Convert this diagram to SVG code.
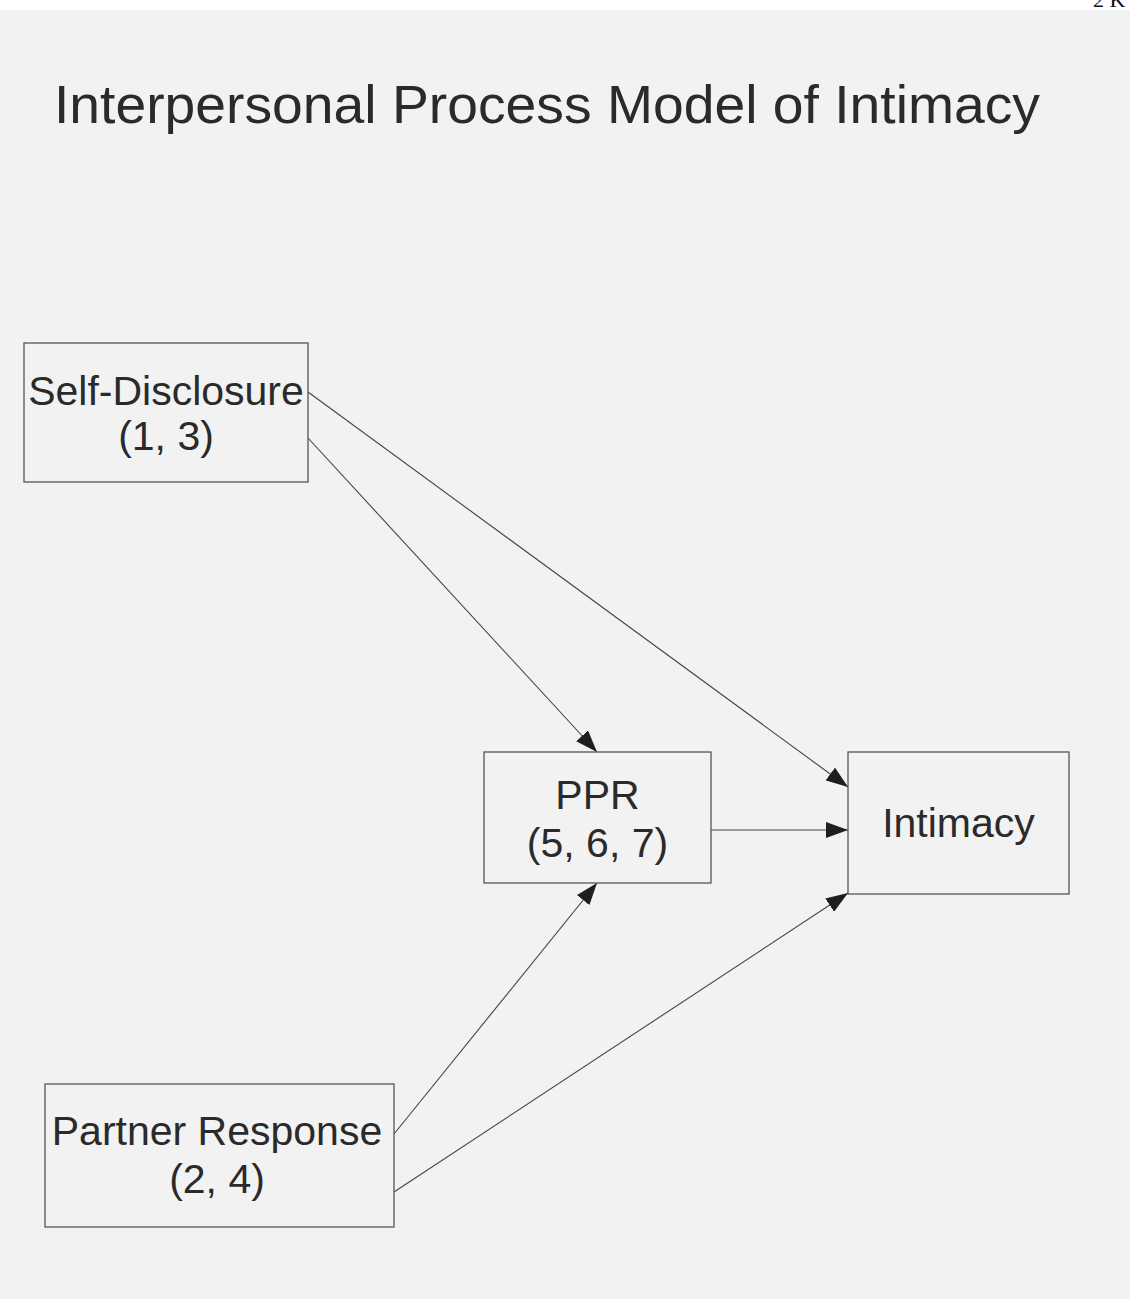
<svg xmlns="http://www.w3.org/2000/svg" width="1130" height="1299" viewBox="0 0 1130 1299">
<style>
.box{fill:none;stroke:#555;stroke-width:1.3}
.t{font-family:"Liberation Sans",Arial,sans-serif;fill:#2a2a2a;text-anchor:middle;font-size:41px}
.c{stroke:#444;stroke-width:1.1;fill:none}
</style>
<defs>
<marker id="ah" viewBox="0 0 22 16" refX="22" refY="8" markerWidth="22" markerHeight="16" markerUnits="userSpaceOnUse" orient="auto">
<path d="M0,0 L22,8 L0,16 Z" fill="#1e1e1e"/>
</marker>
</defs>
<rect x="0" y="0" width="1130" height="1299" fill="#ffffff"/>
<rect x="0" y="10" width="1130" height="1289" fill="#f2f2f2"/>
<text x="1093" y="7" font-family="Liberation Serif,serif" font-size="22" fill="#111">2 K</text>
<text id="title" x="54" y="123" font-family="Liberation Sans,Arial,sans-serif" font-size="54" textLength="986" lengthAdjust="spacingAndGlyphs" fill="#2a2a2a">Interpersonal Process Model of Intimacy</text>
<g id="connectors">
<line class="c" x1="308" y1="392" x2="848" y2="787" marker-end="url(#ah)"/>
<line class="c" x1="308" y1="438" x2="597" y2="752" marker-end="url(#ah)"/>
<line class="c" x1="711" y1="830" x2="848" y2="830" marker-end="url(#ah)"/>
<line class="c" x1="394" y1="1134" x2="597" y2="883" marker-end="url(#ah)"/>
<line class="c" x1="394" y1="1192" x2="848" y2="893" marker-end="url(#ah)"/>
</g>
<g id="self-disclosure">
<rect class="box" x="24" y="343" width="284" height="139"/>
<text class="t" x="166" y="405">Self-Disclosure</text>
<text class="t" x="166" y="450">(1, 3)</text>
</g>
<g id="ppr">
<rect class="box" x="484" y="752" width="227" height="131"/>
<text class="t" x="597.5" y="809">PPR</text>
<text class="t" x="597.5" y="857">(5, 6, 7)</text>
</g>
<g id="intimacy">
<rect class="box" x="848" y="752" width="221" height="142"/>
<text class="t" x="958.5" y="837">Intimacy</text>
</g>
<g id="partner-response">
<rect class="box" x="45" y="1084" width="349" height="143"/>
<text class="t" x="217" y="1145">Partner Response</text>
<text class="t" x="217" y="1193">(2, 4)</text>
</g>
</svg>
